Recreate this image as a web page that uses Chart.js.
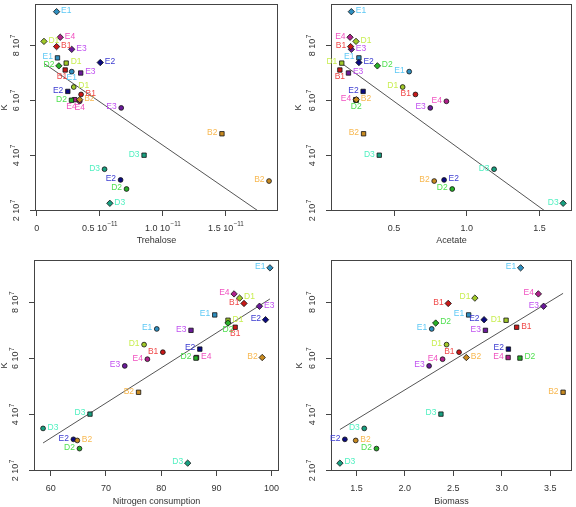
<!DOCTYPE html>
<html><head><meta charset="utf-8">
<script src="https://cdn.jsdelivr.net/npm/chart.js@4.4.1/dist/chart.umd.min.js"></script>
<style>
html,body{margin:0;padding:0;background:#fff;}
#wrap{position:relative;width:576px;height:507px;overflow:hidden;}
canvas{position:absolute;}
</style></head><body>
<div id="wrap">
<canvas id="c1" width="288" height="250" style="left:0;top:0"></canvas>
<canvas id="c2" width="288" height="250" style="left:288px;top:0"></canvas>
<canvas id="c3" width="288" height="257" style="left:0;top:250px"></canvas>
<canvas id="c4" width="288" height="257" style="left:288px;top:250px"></canvas>
</div>
<script>
// ---------------- DATA ----------------
const strains = ["E1","E2","E3","E4","B1","B2","D1","D2","D3"];

// K (carrying capacity) for the three conditions (circle / square / diamond markers)
const K_circle  = [7.05e7, 3.11e7, 5.73e7, 5.97e7, 6.22e7, 3.07e7, 6.49e7, 2.78e7, 3.50e7];
const K_square  = [7.55e7, 6.33e7, 7.00e7, 6.03e7, 7.11e7, 4.79e7, 7.36e7, 6.01e7, 4.01e7];
const K_diamond = [9.23e7, 7.38e7, 7.86e7, 8.30e7, 7.96e7, 6.03e7, 8.15e7, 7.26e7, 2.26e7];

const trehalose_circle  = [0.278e-11, 0.665e-11, 0.670e-11, 0.341e-11, 0.352e-11, 1.841e-11, 0.294e-11, 0.712e-11, 0.538e-11];
const trehalose_square  = [0.165e-11, 0.247e-11, 0.349e-11, 0.302e-11, 0.226e-11, 1.468e-11, 0.234e-11, 0.276e-11, 0.851e-11];
const trehalose_diamond = [0.158e-11, 0.504e-11, 0.278e-11, 0.187e-11, 0.158e-11, 0.341e-11, 0.058e-11, 0.176e-11, 0.580e-11];

const acetate_circle  = [0.604, 0.844, 0.749, 0.860, 0.647, 0.776, 0.559, 0.900, 1.188];
const acetate_square  = [0.258, 0.287, 0.186, 0.236, 0.127, 0.290, 0.140, 0.240, 0.398];
const acetate_diamond = [0.206, 0.258, 0.206, 0.197, 0.201, 0.240, 0.238, 0.385, 1.663];

const nitrogen_circle  = [79.2, 64.1, 73.4, 77.5, 80.3, 64.8, 76.9, 65.2, 58.6];
const nitrogen_square  = [89.7, 87.0, 85.4, 86.4, 93.4, 75.9, 92.1, 86.3, 67.1];
const nitrogen_diamond = [99.7, 98.9, 97.8, 93.2, 95.0, 98.3, 94.2, 92.1, 84.8];

const biomass_circle  = [2.277, 1.381, 2.250, 2.389, 2.559, 1.493, 2.430, 1.707, 1.581];
const biomass_square  = [2.658, 3.068, 2.831, 3.065, 3.153, 3.632, 3.044, 3.187, 2.372];
const biomass_diamond = [3.194, 2.817, 3.431, 3.377, 2.447, 2.634, 2.722, 2.318, 1.330];

// fitted regression lines (end points)
const fit_trehalose = [[0.058e-11, 7.35e7], [1.841e-11, 1.71e7]];
const fit_acetate   = [[0.127, 7.40e7], [1.663, 1.50e7]];
const fit_nitrogen  = [[58.6, 2.98e7], [99.7, 8.12e7]];
const fit_biomass   = [[1.330, 3.46e7], [3.632, 8.32e7]];

// ticks
const kTicks = [2e7, 4e7, 6e7, 8e7];
const kTickLabels = ["2 10^7", "4 10^7", "6 10^7", "8 10^7"];
const trehaloseTicks = [0, 0.5e-11, 1.0e-11, 1.5e-11];
const trehaloseTickLabels = ["0", "0.5 10^\u221211", "1.0 10^\u221211", "1.5 10^\u221211"];
const acetateTicks = [0.5, 1.0, 1.5];
const acetateTickLabels = ["0.5", "1.0", "1.5"];
const nitrogenTicks = [60, 70, 80, 90, 100];
const nitrogenTickLabels = ["60", "70", "80", "90", "100"];
const biomassTicks = [1.5, 2.0, 2.5, 3.0, 3.5];
const biomassTickLabels = ["1.5", "2.0", "2.5", "3.0", "3.5"];

// ---------------- STYLE ----------------
const FONT = '"Liberation Sans", Arial, Helvetica, sans-serif';
const fillColors  = ['#2E8FC0','#0A0A80','#6A1A9A','#B0208A','#C81818','#C88A20','#A0C828','#28B028','#18A080'];
const labelColors = ['#5CC8F5','#3A3AD0','#C050F0','#F050C0','#F04848','#F8B850','#C8EE50','#50E050','#50F0C0'];

// label placement (r = right, l = left, b = below, bl / br = below shifted)
const pos = {
  trehalose: {
    circle:  ['b','l','l','b','r','l','r','l','l'],
    square:  ['l','l','r','bl','bl','l','r','l','l'],
    diamond: ['r','r','r','r','r','r','r','l','r']
  },
  acetate: {
    circle:  ['l','r','l','l','l','l','l','l','l'],
    square:  ['l','l','r','l','b','l','l','b','l'],
    diamond: ['r','r','r','l','l','r','r','r','l']
  },
  nitrogen: {
    circle:  ['l','l','l','l','l','r','l','l','r'],
    square:  ['l','l','l','r','b','l','r','l','l'],
    diamond: ['l','l','r','l','l','l','r','b','l']
  },
  biomass: {
    circle:  ['l','l','l','l','l','r','l','l','l'],
    square:  ['l','l','l','l','r','l','l','r','l'],
    diamond: ['l','l','l','l','l','r','l','r','r']
  }
};

function drawSup(ctx, text, x, y, size, color) {
  const parts = text.split('^');
  const base = parts[0], sup = parts[1] || '';
  ctx.fillStyle = color;
  ctx.textBaseline = 'middle';
  ctx.textAlign = 'left';
  ctx.font = size + 'px ' + FONT;
  const wb = ctx.measureText(base).width;
  const ss = size * 0.7;
  ctx.font = ss + 'px ' + FONT;
  const ws = sup ? ctx.measureText(sup).width + 0.5 : 0;
  const sx = x - (wb + ws) / 2;
  ctx.font = size + 'px ' + FONT;
  ctx.fillText(base, sx, y);
  if (sup) {
    ctx.font = ss + 'px ' + FONT;
    ctx.fillText(sup, sx + wb + 0.5, y - size * 0.42);
  }
}

const decor = {
  id: 'decor',
  afterDraw(chart) {
    const ctx = chart.ctx, ca = chart.chartArea;
    const o = chart.options.plugins.decor;
    ctx.save();
    // box
    ctx.strokeStyle = '#444'; ctx.lineWidth = 1;
    ctx.strokeRect(Math.round(ca.left) + 0.5, Math.round(ca.top) + 0.5,
                   Math.round(ca.right) - Math.round(ca.left) - 1, Math.round(ca.bottom) - Math.round(ca.top) - 1);
    // x tick labels
    const xs = chart.scales.x, ys = chart.scales.y;
    o.xTicks.forEach((v, i) => {
      drawSup(ctx, o.xLabels[i], xs.getPixelForValue(v), ca.bottom + 17.5, 9, '#333');
    });
    // y tick labels (rotated)
    o.yTicks.forEach((v, i) => {
      ctx.save();
      ctx.translate(ca.left - 18, ys.getPixelForValue(v));
      ctx.rotate(-Math.PI / 2);
      drawSup(ctx, o.yLabels[i], 0, 0, 9, '#333');
      ctx.restore();
    });
    // point labels
    ctx.font = '8.5px ' + FONT;
    ctx.textBaseline = 'middle';
    chart.data.datasets.forEach((ds, di) => {
      if (!ds.labelPos) return;
      const meta = chart.getDatasetMeta(di);
      meta.data.forEach((el, i) => {
        const p = ds.labelPos[i];
        ctx.fillStyle = labelColors[i];
        let x = el.x, y = el.y - 1;
        if (p === 'r') { ctx.textAlign = 'left'; x += 4.5; }
        else if (p === 'l') { ctx.textAlign = 'right'; x -= 4.5; }
        else if (p === 'b') { ctx.textAlign = 'center'; y += 7.5; }
        else if (p === 'bl') { ctx.textAlign = 'right'; x += 2; y += 7.5; }
        else if (p === 'br') { ctx.textAlign = 'left'; x -= 2; y += 7.5; }
        ctx.fillText(strains[i], x, y);
      });
    });
    ctx.restore();
  }
};

function pts(xs, ks) { return xs.map((x, i) => ({x: x, y: ks[i]})); }

function makeChart(id, cfg) {
  const mk = (data, style, r, lp) => ({
    data: data, pointStyle: style, pointRadius: r, pointHoverRadius: r,
    backgroundColor: fillColors, borderColor: '#111', borderWidth: 0.8,
    showLine: false, labelPos: lp
  });
  const P = pos[cfg.key];
  new Chart(document.getElementById(id), {
    type: 'scatter',
    data: {
      datasets: [
        mk(pts(cfg.xd, K_diamond), 'rectRot', 3.2, P.diamond),
        mk(pts(cfg.xs, K_square), 'rect', 3.1, P.square),
        mk(pts(cfg.xc, K_circle), 'circle', 2.4, P.circle),
        { data: cfg.fit.map(p => ({x: p[0], y: p[1]})), showLine: true, borderColor: '#555',
          borderWidth: 1, pointRadius: 0, fill: false }
      ]
    },
    options: {
      responsive: false, animation: false, events: [],
      layout: { padding: cfg.pad },
      plugins: { legend: {display: false}, tooltip: {enabled: false},
        decor: { xTicks: cfg.ticks, xLabels: cfg.tickLabels, yTicks: kTicks, yLabels: kTickLabels } },
      scales: {
        x: {
          type: 'linear', min: cfg.xmin, max: cfg.xmax,
          afterBuildTicks: s => { s.ticks = cfg.ticks.map(v => ({value: v})); },
          afterFit: s => { s.height = cfg.xh; },
          ticks: { display: false },
          grid: { drawOnChartArea: false, drawTicks: true, tickLength: 5, color: '#444', tickColor: '#444' },
          border: { display: false },
          title: { display: true, text: cfg.title, color: '#333', font: {family: FONT, size: 9},
                   padding: {top: 0, bottom: cfg.tpad} }
        },
        y: {
          type: 'linear', min: 1.98e7, max: 9.51e7,
          afterBuildTicks: s => { s.ticks = kTicks.map(v => ({value: v})); },
          afterFit: s => { s.width = cfg.yw; },
          ticks: { display: false },
          grid: { drawOnChartArea: false, drawTicks: true, tickLength: 5, color: '#444', tickColor: '#444' },
          border: { display: false },
          title: { display: true, text: 'K', color: '#333', font: {family: FONT, size: 9},
                   padding: {top: cfg.kpad, bottom: 0} }
        }
      }
    },
    plugins: [decor]
  });
}

makeChart('c1', { key: 'trehalose', xc: trehalose_circle, xs: trehalose_square, xd: trehalose_diamond,
  fit: fit_trehalose, ticks: trehaloseTicks, tickLabels: trehaloseTickLabels, title: 'Trehalose',
  xmin: -0.013e-11, xmax: 1.912e-11, pad: {left: 0, top: 1, right: 10, bottom: 0}, xh: 39, yw: 35, tpad: 4.5, kpad: -1 });
makeChart('c2', { key: 'acetate', xc: acetate_circle, xs: acetate_square, xd: acetate_diamond,
  fit: fit_acetate, ticks: acetateTicks, tickLabels: acetateTickLabels, title: 'Acetate',
  xmin: 0.066, xmax: 1.724, pad: {left: 0, top: 1, right: 1, bottom: 0}, xh: 39, yw: 43, tpad: 4.5, kpad: 5 });
makeChart('c3', { key: 'nitrogen', xc: nitrogen_circle, xs: nitrogen_square, xd: nitrogen_diamond,
  fit: fit_nitrogen, ticks: nitrogenTicks, tickLabels: nitrogenTickLabels, title: 'Nitrogen consumption',
  xmin: 56.96, xmax: 101.34, pad: {left: 0, top: 10, right: 9, bottom: 0}, xh: 36, yw: 34, tpad: 0, kpad: -0.5 });
makeChart('c4', { key: 'biomass', xc: biomass_circle, xs: biomass_square, xd: biomass_diamond,
  fit: fit_biomass, ticks: biomassTicks, tickLabels: biomassTickLabels, title: 'Biomass',
  xmin: 1.238, xmax: 3.724, pad: {left: 0, top: 10, right: 1, bottom: 0}, xh: 36, yw: 43, tpad: 0, kpad: 6 });
</script>
</body></html>
